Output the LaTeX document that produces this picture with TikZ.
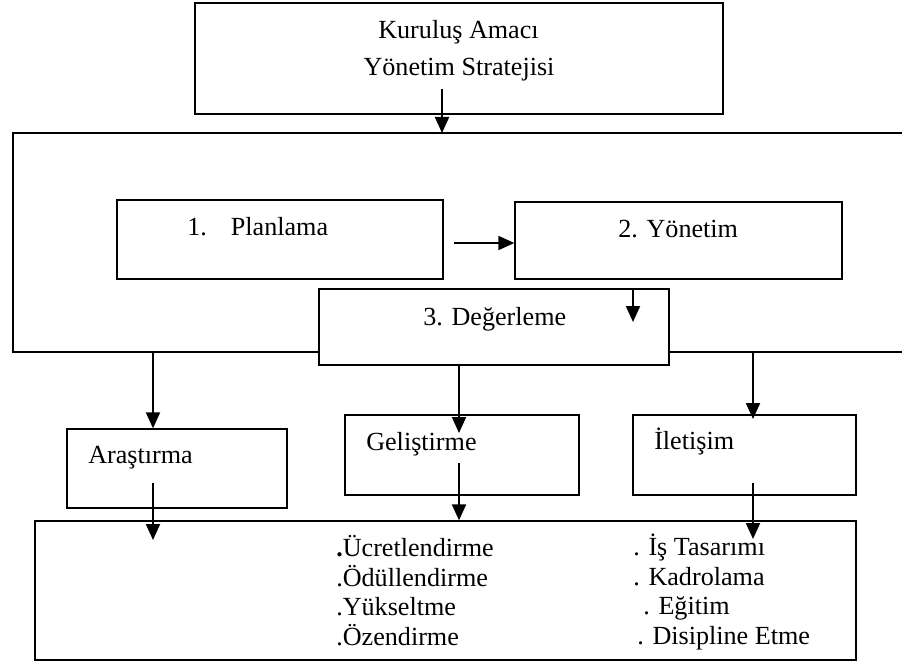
\documentclass[tikz,border=0pt]{standalone}
\usepackage{fontspec}
\setmainfont{Liberation Serif}
\usetikzlibrary{arrows.meta}

\begin{document}
\begin{tikzpicture}[x=0.75pt,y=-0.75pt,
  kutu/.style={draw=black,line width=1pt,fill=white,inner sep=0pt},
  ok/.style={-{Triangle[length=12pt,width=10.5pt]},line width=1.5pt},
  yazi/.style={font=\fontsize{19.6}{23}\selectfont,inner sep=0pt,anchor=base west}]
\useasboundingbox (0,0) rectangle (902,663);
% ust kutu
\node[kutu,line width=1.5pt,minimum width=396pt,minimum height=83.25pt] (amac) at (459,58.5) {};
\node[yazi,anchor=base] (amac1) at (458.5,39) {Kuruluş Amacı};
\node[yazi,anchor=base] (amac2) at (459,76) {Yönetim Stratejisi};
% cerceve (sag kenari acik)
\coordinate (cUL) at (13,133);
\coordinate (cBL) at (13,352);
\draw[line width=1.3pt] (902,133) -- (cUL) -- (cBL) -- (902,352);
% surec kutulari
\node[kutu,minimum width=244.5pt,minimum height=59.25pt] (plan) at (280,239.5) {};
\node[yazi] (plantxt) at (187,235) {1.\hspace{18pt}Planlama};
\node[kutu,minimum width=245.25pt,minimum height=57.75pt] (yonetim) at (678.5,240.5) {};
\node[yazi] (yonetimtxt) at (618,237) {2. Yönetim};
\node[kutu,minimum width=262.5pt,minimum height=57pt] (deger) at (494,327) {};
\node[yazi] (degertxt) at (423,325) {3. Değerleme};
% alt kutular
\node[kutu,minimum width=165pt,minimum height=59.25pt] (arastirma) at (177,468.5) {};
\node[yazi] (arastirmatxt) at (88,463) {Araştırma};
\node[kutu,minimum width=175.5pt,minimum height=60pt] (gelistirme) at (462,455) {};
\node[yazi] (gelistirmetxt) at (366,450) {Geliştirme};
\node[kutu,minimum width=167.25pt,minimum height=60pt] (iletisim) at (744.5,455) {};
\node[yazi] (iletisimtxt) at (654,449) {İletişim};
\node[kutu,minimum width=615.75pt,minimum height=104.25pt] (alt) at (445.5,590.5) {};
\node[yazi] (l1) at (336,556) {\textbf{.}Ücretlendirme};
\node[yazi] (l2) at (336,586) {.Ödüllendirme};
\node[yazi] (l3) at (336,615) {.Yükseltme};
\node[yazi] (l4) at (336,645) {.Özendirme};
\node[yazi] (r1) at (633,555) {. İş Tasarımı};
\node[yazi] (r2) at (633,585) {. Kadrolama};
\node[yazi] (r3) at (643,614) {. Eğitim};
\node[yazi] (r4) at (637,644) {. Disipline Etme};
% oklar
\coordinate (a0) at (442,89);
\coordinate (p1) at (454,243);
\coordinate (d1) at (633,322);
\coordinate (s1) at (153,483);
\coordinate (e1) at (153,540);
\coordinate (s2) at (459,463);
\coordinate (g2) at (459,433);
\coordinate (s3) at (753,483);
\coordinate (g3) at (753,419);
\coordinate (e3) at (753,539);
\draw[ok] (a0) -- (a0 |- cUL);
\draw[ok] (p1) -- (p1 -| yonetim.west);
\draw[ok] (d1 |- deger.north) -- (d1);
\draw[ok] (s1 |- cBL) -- (s1 |- arastirma.north);
\draw[ok] (s2 |- deger.south) -- (g2);
\draw[ok] (s3 |- cBL) -- (g3);
\draw[ok] (s1) -- (e1);
\draw[ok] (s2) -- (s2 |- alt.north);
\draw[ok] (s3) -- (e3);
\end{tikzpicture}
\end{document}
